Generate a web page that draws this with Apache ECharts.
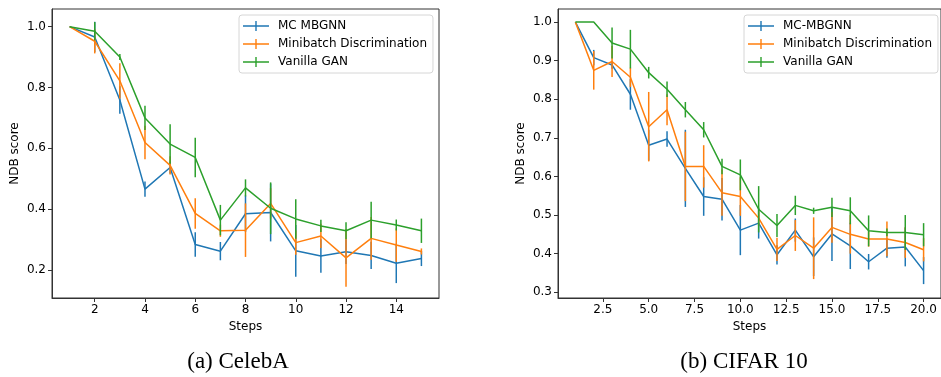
<!DOCTYPE html>
<html>
<head>
<meta charset="utf-8">
<script src="https://cdn.jsdelivr.net/npm/echarts@6/dist/echarts.min.js"></script>
<style>
  html, body { margin: 0; padding: 0; background: #fff; }
  #chart { width: 941px; height: 377px; }
</style>
</head>
<body>
<div id="chart"></div>
<script>
// (a) CelebA
const stepsA = [1, 2, 3, 4, 5, 6, 7, 8, 9, 10, 11, 12, 13, 14, 15];
const mcA = [1.0, 0.966, 0.759, 0.466, 0.537, 0.284, 0.262, 0.385, 0.389, 0.263, 0.246, 0.26, 0.248, 0.222, 0.238];
const mcErrA = [0, 0.05, 0.045, 0.025, 0.02, 0.04, 0.03, 0.06, 0.095, 0.085, 0.055, 0.04, 0.045, 0.065, 0.025];
const mbA = [1.0, 0.952, 0.822, 0.619, 0.544, 0.386, 0.329, 0.331, 0.419, 0.29, 0.312, 0.24, 0.304, 0.282, 0.261];
const mbErrA = [0, 0.04, 0.058, 0.055, 0.03, 0.05, 0.02, 0.088, 0.05, 0.04, 0.04, 0.095, 0.07, 0.055, 0.01];
const vgA = [1.0, 0.985, 0.9, 0.7, 0.614, 0.57, 0.364, 0.47, 0.403, 0.368, 0.345, 0.329, 0.364, 0.348, 0.329];
const vgErrA = [0, 0.03, 0.01, 0.04, 0.065, 0.065, 0.05, 0.028, 0.085, 0.065, 0.02, 0.028, 0.06, 0.018, 0.04];
const xTicksA = [2, 4, 6, 8, 10, 12, 14];
const yTicksA = [0.2, 0.4, 0.6, 0.8, 1.0];

// (b) CIFAR 10
const stepsB = [1, 2, 3, 4, 5, 6, 7, 8, 9, 10, 11, 12, 13, 14, 15, 16, 17, 18, 19, 20];
const mcB = [1.0, 0.908, 0.889, 0.813, 0.681, 0.697, 0.621, 0.548, 0.541, 0.461, 0.479, 0.397, 0.461, 0.392, 0.451, 0.42, 0.379, 0.414, 0.417, 0.356];
const mcErrB = [0, 0.02, 0.01, 0.04, 0.04, 0.02, 0.1, 0.05, 0.055, 0.065, 0.04, 0.025, 0.03, 0.05, 0.07, 0.06, 0.02, 0.025, 0.05, 0.035];
const mbB = [1.0, 0.875, 0.898, 0.857, 0.729, 0.773, 0.626, 0.626, 0.558, 0.548, 0.492, 0.411, 0.447, 0.414, 0.468, 0.45, 0.438, 0.438, 0.429, 0.41];
const mbErrB = [0, 0.05, 0.04, 0.025, 0.09, 0.04, 0.09, 0.055, 0.06, 0.05, 0.02, 0.03, 0.04, 0.08, 0.04, 0.05, 0.02, 0.045, 0.04, 0.03];
const vgB = [1.0, 1.0, 0.946, 0.93, 0.869, 0.826, 0.773, 0.721, 0.626, 0.604, 0.515, 0.473, 0.525, 0.511, 0.52, 0.511, 0.459, 0.455, 0.455, 0.449];
const vgErrB = [0, 0, 0.04, 0.05, 0.015, 0.02, 0.02, 0.02, 0.02, 0.04, 0.06, 0.03, 0.025, 0.008, 0.025, 0.035, 0.04, 0.01, 0.045, 0.03];
const xTicksB = [2.5, 5.0, 7.5, 10.0, 12.5, 15.0, 17.5, 20.0];
const yTicksB = [0.3, 0.4, 0.5, 0.6, 0.7, 0.8, 0.9, 1.0];

const BLUE = "#1f77b4", ORANGE = "#ff7f0e", GREEN = "#2ca02c";
const FONT = "DejaVu Sans";
const AXIS = "#333";
const legendIcon = "path://M0,4.3h26v1.4h-26z M12.3,0h1.4v10h-1.4z";

const chart = echarts.init(document.getElementById("chart"));

function pairs(xs, ys) {
  return xs.map((x, i) => [x, ys[i]]);
}
function bars(xs, ys, errs) {
  return xs.map((x, i) => [x, ys[i] - errs[i], ys[i] + errs[i]]);
}

function lineSeries(name, idx, xs, ys, color, z) {
  return {
    name: name,
    type: "line",
    xAxisIndex: idx,
    yAxisIndex: idx,
    data: pairs(xs, ys),
    showSymbol: false,
    color: color,
    lineStyle: { color: color, width: 1.5 },
    z: z,
  };
}

function errSeries(idx, xs, ys, errs, color, z) {
  return {
    type: "custom",
    xAxisIndex: idx,
    yAxisIndex: idx,
    data: bars(xs, ys, errs),
    encode: { x: 0, y: [1, 2] },
    z: z,
    renderItem: (params, api) => {
      const lo = api.coord([api.value(0), api.value(1)]);
      const hi = api.coord([api.value(0), api.value(2)]);
      return {
        type: "line",
        shape: { x1: lo[0], y1: lo[1], x2: hi[0], y2: hi[1] },
        style: { stroke: color, lineWidth: 1.5 },
      };
    },
  };
}

function xAxis(idx, min, max, ticks, fmt) {
  return {
    type: "value",
    gridIndex: idx,
    min: min,
    max: max,
    name: "Steps",
    nameLocation: "middle",
    nameGap: 21,
    nameTextStyle: { color: "#000", fontFamily: FONT, fontSize: 12 },
    axisLine: { show: true, lineStyle: { color: AXIS, width: 1 } },
    axisTick: { show: true, length: 4, lineStyle: { color: AXIS }, customValues: ticks },
    axisLabel: { color: "#000", fontFamily: FONT, fontSize: 12, margin: 6, customValues: ticks, formatter: fmt },
    splitLine: { show: false },
  };
}

function yAxis(idx, min, max, ticks) {
  return {
    type: "value",
    gridIndex: idx,
    min: min,
    max: max,
    name: "NDB score",
    nameLocation: "middle",
    nameGap: 31,
    nameTextStyle: { color: "#000", fontFamily: FONT, fontSize: 12 },
    axisLine: { show: true, lineStyle: { color: AXIS, width: 1 } },
    axisTick: { show: true, length: 4, lineStyle: { color: AXIS }, customValues: ticks },
    axisLabel: { color: "#000", fontFamily: FONT, fontSize: 12, margin: 6, customValues: ticks, formatter: (v) => v.toFixed(1) },
    splitLine: { show: false },
  };
}

function legend(left, names) {
  return {
    left: left,
    top: 15,
    orient: "vertical",
    icon: legendIcon,
    itemWidth: 26,
    itemHeight: 10,
    itemGap: 4,
    padding: [4, 6, 4, 4],
    backgroundColor: "rgba(255,255,255,0.8)",
    borderColor: "#d6d6d6",
    borderWidth: 1,
    borderRadius: 3,
    data: names,
    textStyle: { color: "#000", fontFamily: FONT, fontSize: 12, padding: [0, 0, 0, 4], lineHeight: 14 },
  };
}

const option = {
  animation: false,
  backgroundColor: "#fff",
  grid: [
    { left: 52, top: 9, width: 387, height: 289, show: true, borderColor: AXIS, borderWidth: 1, backgroundColor: "transparent" },
    { left: 558, top: 9, width: 387, height: 289, show: true, borderColor: AXIS, borderWidth: 1, backgroundColor: "transparent" },
  ],
  xAxis: [
    xAxis(0, 0.3, 15.7, xTicksA, (v) => String(v)),
    xAxis(1, 0.05, 20.95, xTicksB, (v) => v.toFixed(1)),
  ],
  yAxis: [
    yAxis(0, 0.108, 1.058, yTicksA),
    yAxis(1, 0.285, 1.034, yTicksB),
  ],
  legend: [
    legend(239, ["MC MBGNN", "Minibatch Discrimination", "Vanilla GAN"]),
    legend(744, ["MC-MBGNN", "Minibatch Discrimination", "Vanilla GAN"]),
  ],
  graphic: [
    { type: "text", x: 238, y: 362, style: { text: "(a) CelebA", font: '23px "Liberation Serif"', fill: "#000", align: "center", verticalAlign: "middle" } },
    { type: "text", x: 744, y: 362, style: { text: "(b) CIFAR 10", font: '23px "Liberation Serif"', fill: "#000", align: "center", verticalAlign: "middle" } },
  ],
  series: [
    lineSeries("MC MBGNN", 0, stepsA, mcA, BLUE, 2),
    errSeries(0, stepsA, mcA, mcErrA, BLUE, 2),
    lineSeries("Minibatch Discrimination", 0, stepsA, mbA, ORANGE, 3),
    errSeries(0, stepsA, mbA, mbErrA, ORANGE, 3),
    lineSeries("Vanilla GAN", 0, stepsA, vgA, GREEN, 4),
    errSeries(0, stepsA, vgA, vgErrA, GREEN, 4),
    lineSeries("MC-MBGNN", 1, stepsB, mcB, BLUE, 2),
    errSeries(1, stepsB, mcB, mcErrB, BLUE, 2),
    lineSeries("Minibatch Discrimination", 1, stepsB, mbB, ORANGE, 3),
    errSeries(1, stepsB, mbB, mbErrB, ORANGE, 3),
    lineSeries("Vanilla GAN", 1, stepsB, vgB, GREEN, 4),
    errSeries(1, stepsB, vgB, vgErrB, GREEN, 4),
  ],
};

chart.setOption(option);
</script>
</body>
</html>
